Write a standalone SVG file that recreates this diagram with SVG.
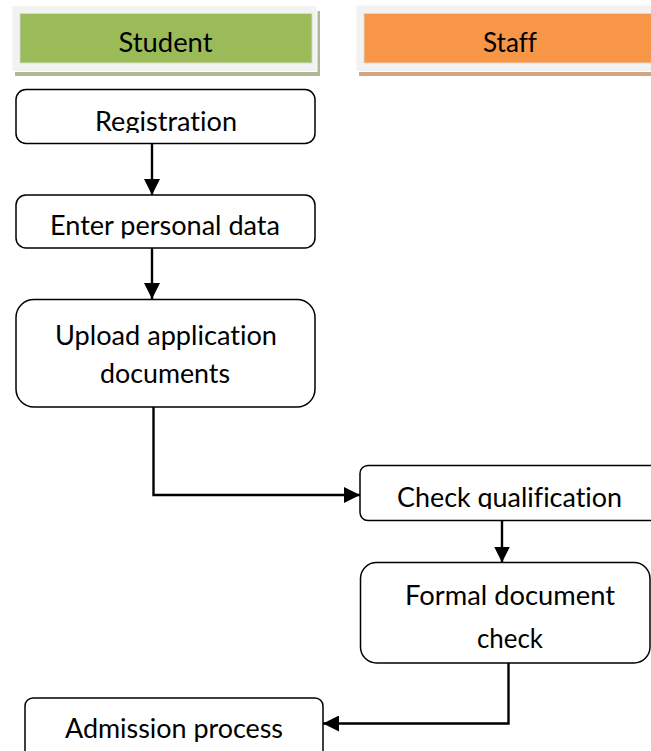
<svg xmlns="http://www.w3.org/2000/svg" width="651" height="751" viewBox="0 0 651 751">
  <style>
    .box { fill: #ffffff; stroke: #000000; stroke-width: 1.5; }
    .wire { fill: none; stroke: #000000; stroke-width: 2.4; }
    .lbl { font-family: Lato, "Open Sans", sans-serif; font-size: 26px; fill: #000000; text-anchor: middle; font-variant-ligatures: none; font-feature-settings: "liga" 0, "dlig" 0; }
    .frame { fill: #f2f2f2; }
  </style>
  <defs>
    <marker id="arrow" viewBox="0 0 16 16" refX="16" refY="8" markerWidth="16" markerHeight="16" markerUnits="userSpaceOnUse" orient="auto">
      <path d="M0,0 L16,8 L0,16 Z" fill="#000000"/>
    </marker>
    <!-- label areas cut off just below the baseline -->
    <clipPath id="clip-reg"><rect x="0" y="80" width="651" height="53"/></clipPath>
    <clipPath id="clip-enter"><rect x="0" y="190" width="651" height="48.5"/></clipPath>
    <clipPath id="clip-check"><rect x="0" y="460" width="651" height="49"/></clipPath>
    <clipPath id="clip-adm"><rect x="0" y="690" width="651" height="52"/></clipPath>
  </defs>

  <!-- lane headers -->
  <g id="lane-student">
    <rect x="15" y="11" width="305" height="65" fill="#adb996"/>
    <rect x="12" y="5.5" width="305" height="66" class="frame" stroke="#ffffff" stroke-width="1"/>
    <rect x="20" y="13.5" width="292" height="49.5" fill="#9bbb59" stroke="#dadada" stroke-width="0.8"/>
    <text class="lbl" x="165.5" y="51.5" textLength="94" lengthAdjust="spacingAndGlyphs">Student</text>
  </g>
  <g id="lane-staff">
    <rect x="359" y="11" width="300" height="65" fill="#d3a582"/>
    <rect x="356" y="5" width="300" height="66.5" class="frame" stroke="#ffffff" stroke-width="1"/>
    <rect x="364" y="13.5" width="295" height="49.5" fill="#f79646" stroke="#dadada" stroke-width="0.8"/>
    <text class="lbl" x="510" y="51.5" textLength="54" lengthAdjust="spacingAndGlyphs">Staff</text>
  </g>

  <!-- connectors -->
  <g id="connectors">
    <line class="wire" x1="152" y1="143.5" x2="152" y2="195" marker-end="url(#arrow)"/>
    <line class="wire" x1="152" y1="248" x2="152" y2="299" marker-end="url(#arrow)"/>
    <polyline class="wire" points="153.5,407 153.5,495 360,495" marker-end="url(#arrow)"/>
    <line class="wire" x1="502" y1="521" x2="502" y2="562.5" marker-end="url(#arrow)"/>
    <polyline class="wire" points="508.5,663 508.5,723.5 323,723.5" marker-end="url(#arrow)"/>
  </g>

  <!-- nodes -->
  <g id="registration">
    <rect class="box" x="16" y="89.5" width="299" height="54" rx="10"/>
    <text class="lbl" x="166" y="130.5" clip-path="url(#clip-reg)" textLength="142" lengthAdjust="spacingAndGlyphs">Registration</text>
  </g>
  <g id="enter-personal-data">
    <rect class="box" x="16" y="195" width="299" height="53" rx="10"/>
    <text class="lbl" x="165" y="234.5" clip-path="url(#clip-enter)" textLength="230" lengthAdjust="spacingAndGlyphs">Enter personal data</text>
  </g>
  <g id="upload-documents">
    <rect class="box" x="16" y="299.5" width="299" height="107.5" rx="18"/>
    <text class="lbl" x="166" y="344.5" textLength="222" lengthAdjust="spacingAndGlyphs">Upload application</text>
    <text class="lbl" x="165" y="382.5" textLength="130" lengthAdjust="spacingAndGlyphs">documents</text>
  </g>
  <g id="check-qualification">
    <rect class="box" x="360" y="465.5" width="310" height="55" rx="8"/>
    <text class="lbl" x="509.5" y="506.5" clip-path="url(#clip-check)" textLength="225" lengthAdjust="spacingAndGlyphs">Check qualification</text>
  </g>
  <g id="formal-document-check">
    <rect class="box" x="360.5" y="562.5" width="289.5" height="100.5" rx="16"/>
    <text class="lbl" x="510" y="604.5" textLength="210" lengthAdjust="spacingAndGlyphs">Formal document</text>
    <text class="lbl" x="510" y="648" textLength="66" lengthAdjust="spacingAndGlyphs">check</text>
  </g>
  <g id="admission-process">
    <rect class="box" x="25" y="698" width="298" height="70" rx="8"/>
    <text class="lbl" x="174" y="737.5" clip-path="url(#clip-adm)" textLength="218" lengthAdjust="spacingAndGlyphs">Admission process</text>
  </g>
</svg>
